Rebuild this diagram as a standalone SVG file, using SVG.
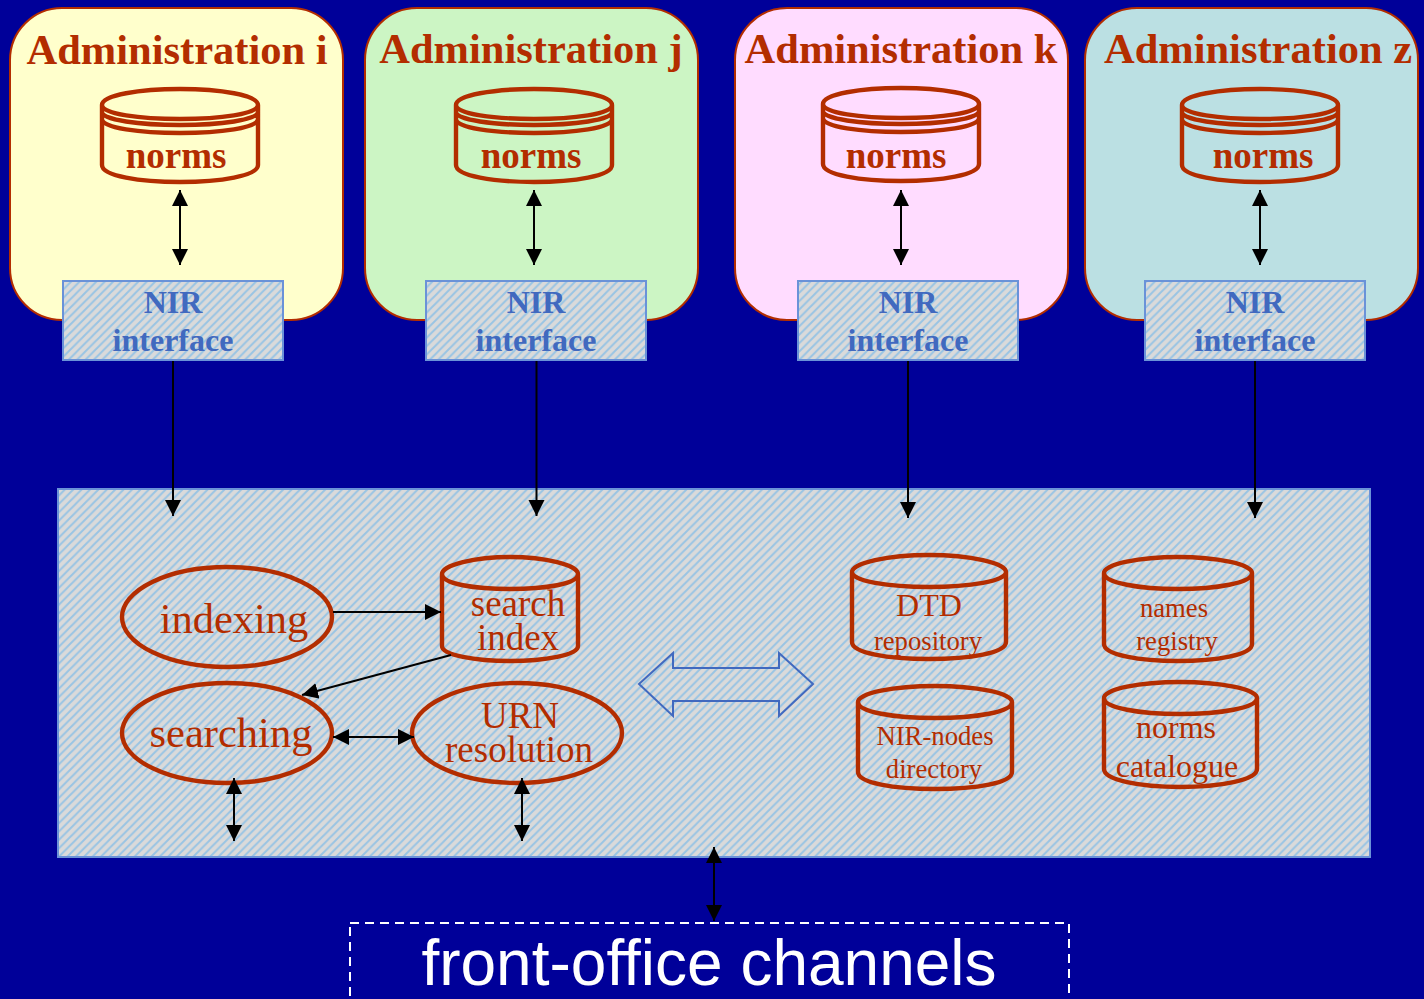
<svg xmlns="http://www.w3.org/2000/svg" width="1424" height="999" viewBox="0 0 1424 999">
<style>
.adm{stroke:#b32d00;stroke-width:2}
.t{font-family:"Liberation Serif",serif;fill:#b32d00;text-anchor:middle}
.b{font-weight:bold}
.h{font-size:42.5px}
.n{font-size:37px}
.cyl{fill:none;stroke:#b32d00;stroke-width:4.4}
.nir{fill:url(#hatch);stroke:#6a92d8;stroke-width:2}
.nt{font-family:"Liberation Serif",serif;font-weight:bold;fill:#4169bf;text-anchor:middle;font-size:32px}
.c{stroke:#000;stroke-width:2;fill:none}
.ad{marker-end:url(#ah)}
.bd{marker-start:url(#as);marker-end:url(#ah)}
</style>
<defs>
<pattern id="hatch" width="8.4" height="8.4" patternUnits="userSpaceOnUse">
<rect width="8.4" height="8.4" fill="#dadada"/>
<path d="M-2.1 2.1L2.1 -2.1M-2.1 10.5L10.5 -2.1M6.3 10.5L10.5 6.3" stroke="#98c4e4" stroke-width="1.9"/>
</pattern>
<marker id="ah" markerUnits="userSpaceOnUse" markerWidth="17" markerHeight="17" refX="16" refY="8" orient="auto"><path d="M0 0L16 8L0 16Z" fill="#000"/></marker>
<marker id="as" markerUnits="userSpaceOnUse" markerWidth="17" markerHeight="17" refX="0" refY="8" orient="auto"><path d="M16 0L0 8L16 16Z" fill="#000"/></marker>
<g id="cyl3"><path class="cyl" d="M-78 16C-78 6 -40 0 0 0C40 0 78 6 78 16C78 25 40 30 0 30C-40 30 -78 25 -78 16ZM-78 16V76C-78 87 -40 93 0 93C40 93 78 87 78 76V16M-78 23C-78 31 -40 36 0 36C40 36 78 31 78 23M-78 30C-78 39 -40 44 0 44C40 44 78 39 78 30"/></g>
</defs>
<rect width="1424" height="999" fill="#000099"/>

<g id="admin-i"><rect class="adm" x="10" y="8" width="333" height="312" rx="52" fill="#ffffcc"/>
<text class="t b h" x="177" y="64">Administration i</text>
<use href="#cyl3" x="180" y="89"/><text class="t b n" x="176" y="168">norms</text></g>
<g id="admin-j"><rect class="adm" x="365" y="8" width="333" height="312" rx="52" fill="#ccf5c4"/>
<text class="t b h" x="531" y="63">Administration j</text>
<use href="#cyl3" x="534" y="89"/><text class="t b n" x="531" y="168">norms</text></g>
<g id="admin-k"><rect class="adm" x="735" y="8" width="333" height="312" rx="52" fill="#ffdcff"/>
<text class="t b h" x="901" y="63">Administration k</text>
<use href="#cyl3" x="901" y="88"/><text class="t b n" x="896" y="168">norms</text></g>
<g id="admin-z"><rect class="adm" x="1085" y="8" width="333" height="312" rx="52" fill="#bbe0e3"/>
<text class="t b h" x="1258" y="63">Administration z</text>
<use href="#cyl3" x="1260" y="89"/><text class="t b n" x="1263" y="168">norms</text></g>

<g id="nir-i"><rect class="nir" x="63" y="281" width="220" height="79"/><text class="nt" x="173" y="313">NIR</text><text class="nt" x="173" y="351">interface</text></g>
<g id="nir-j"><rect class="nir" x="426" y="281" width="220" height="79"/><text class="nt" x="536" y="313">NIR</text><text class="nt" x="536" y="351">interface</text></g>
<g id="nir-k"><rect class="nir" x="798" y="281" width="220" height="79"/><text class="nt" x="908" y="313">NIR</text><text class="nt" x="908" y="351">interface</text></g>
<g id="nir-z"><rect class="nir" x="1145" y="281" width="220" height="79"/><text class="nt" x="1255" y="313">NIR</text><text class="nt" x="1255" y="351">interface</text></g>

<g id="backend"><rect class="nir" x="58" y="489" width="1312" height="368"/></g>

<g id="indexing"><ellipse class="cyl" cx="227" cy="617" rx="105" ry="50"/><text class="t" x="234" y="633" font-size="42.5">indexing</text></g>
<g id="searching"><ellipse class="cyl" cx="227" cy="733" rx="105" ry="50"/><text class="t" x="231" y="747" font-size="42.5">searching</text></g>
<g id="urn"><ellipse class="cyl" cx="517" cy="733" rx="105" ry="50"/><text class="t" x="520" y="728" font-size="37">URN</text><text class="t" x="519" y="762" font-size="37">resolution</text></g>

<g id="search-index"><path class="cyl" d="M442 574C442 565 475 557 510 557C545 557 578 565 578 574C578 584 545 589 510 589C475 589 442 584 442 574ZM442 574V646C442 655 475 661 510 661C545 661 578 655 578 646V574"/><text class="t" x="518" y="616" font-size="37">search</text><text class="t" x="518" y="650" font-size="37">index</text></g>

<g id="dtd"><path class="cyl" d="M852 572C852 563 888 555 929 555C970 555 1006 563 1006 572C1006 581 970 587 929 587C888 587 852 581 852 572ZM852 572V642C852 653 888 659 929 659C970 659 1006 653 1006 642V572"/><text class="t" x="929" y="616" font-size="32">DTD</text><text class="t" x="928" y="650" font-size="26.7">repository</text></g>
<g id="nir-nodes"><path class="cyl" d="M858 702C858 693 894 686 935 686C976 686 1012 693 1012 702C1012 712 976 718 935 718C894 718 858 712 858 702ZM858 702V772C858 783 894 789 935 789C976 789 1012 783 1012 772V702"/><text class="t" x="935" y="745" font-size="26.7">NIR-nodes</text><text class="t" x="934" y="778" font-size="26.7">directory</text></g>
<g id="names"><path class="cyl" d="M1104 573C1104 564 1140 557 1178 557C1216 557 1252 564 1252 573C1252 583 1216 589 1178 589C1140 589 1104 583 1104 573ZM1104 573V644C1104 655 1140 661 1178 661C1216 661 1252 655 1252 644V573"/><text class="t" x="1174" y="617" font-size="26.7">names</text><text class="t" x="1177" y="650" font-size="26.7">registry</text></g>
<g id="catalogue"><path class="cyl" d="M1104 698C1104 689 1140 682 1180 682C1220 682 1257 689 1257 698C1257 708 1220 714 1180 714C1140 714 1104 708 1104 698ZM1104 698V769C1104 780 1140 787 1180 787C1220 787 1257 780 1257 769V698"/><text class="t" x="1176" y="738" font-size="32">norms</text><text class="t" x="1177" y="777" font-size="32">catalogue</text></g>

<g id="exchange"><path d="M639 684L673 653V668L779 668V653L813 684L779 716V701L673 701V716Z" fill="none" stroke="#4169bf" stroke-width="2"/></g>

<g id="front-office"><rect x="350" y="923" width="719" height="90" fill="none" stroke="#fff" stroke-width="2" stroke-dasharray="9 6"/><text x="709" y="985" font-family="'Liberation Sans',sans-serif" font-size="64" fill="#fff" text-anchor="middle">front-office channels</text></g>

<g id="connectors">
<line class="c bd" x1="180" y1="190" x2="180" y2="265"/>
<line class="c bd" x1="534" y1="190" x2="534" y2="265"/>
<line class="c bd" x1="901" y1="190" x2="901" y2="265"/>
<line class="c bd" x1="1260" y1="190" x2="1260" y2="265"/>
<line class="c ad" x1="173" y1="361" x2="173" y2="516"/>
<line class="c ad" x1="536.5" y1="361" x2="536.5" y2="516"/>
<line class="c ad" x1="908" y1="361" x2="908" y2="518"/>
<line class="c ad" x1="1255" y1="361" x2="1255" y2="518"/>
<line class="c ad" x1="333" y1="612" x2="441" y2="612"/>
<line class="c ad" x1="451" y1="655" x2="302" y2="695"/>
<line class="c bd" x1="333" y1="737" x2="414" y2="737"/>
<line class="c bd" x1="234" y1="778" x2="234" y2="841"/>
<line class="c bd" x1="522" y1="778" x2="522" y2="841"/>
<line class="c bd" x1="714" y1="847" x2="714" y2="921"/>
</g>
</svg>
